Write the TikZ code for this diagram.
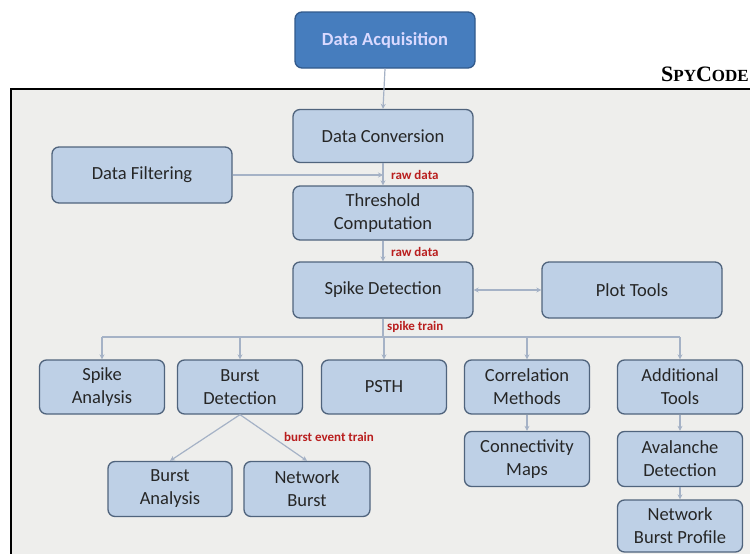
\documentclass[tikz,border=0pt]{standalone}
\usepackage{fontspec}
\setmainfont{Carlito}
\newfontfamily\serifsc{Liberation Serif}
\usetikzlibrary{arrows.meta}
\definecolor{boxfill}{RGB}{190,208,230}
\definecolor{boxline}{RGB}{80,100,125}
\definecolor{topfill}{RGB}{70,125,190}
\definecolor{topline}{RGB}{50,90,140}
\definecolor{panel}{RGB}{238,238,236}
\definecolor{wire}{RGB}{165,178,198}
\definecolor{lbl}{RGB}{185,30,30}
\tikzset{
  x=1pt, y=-1pt,
  blk/.style={draw=boxline, line width=1.3pt, fill=boxfill, rounded corners=7pt,
    font=\fontsize{18.5}{23}\selectfont, text=black!85, align=center, inner sep=0pt},
  topblk/.style={blk, draw=topline, fill=topfill, text=white!85!blue,
    font=\fontsize{18.5}{23}\selectfont\bfseries},
  wirel/.style={draw=wire, line width=1.2pt},
  arr/.style={wirel, -{Stealth[length=5pt,width=5pt]}},
  tag/.style={font=\fontsize{13}{15}\selectfont\bfseries, text=lbl, inner sep=1pt}
}
\begin{document}
\begin{tikzpicture}
\useasboundingbox (0,0) rectangle (750,554);
\clip (0,0) rectangle (750,554);
\fill[white] (0,0) rectangle (750,554);
% SpyCode frame
\draw[line width=2.2pt, fill=panel] (11,89) rectangle (770,580);
\node[font=\serifsc\bfseries, anchor=east, inner sep=0pt] (spy) at (749,74)
  {\fontsize{22}{24}\selectfont S\fontsize{17}{20}\selectfont PY\fontsize{22}{24}\selectfont C\fontsize{17}{20}\selectfont ODE};

% blocks
\node[topblk, minimum width=180pt, minimum height=56pt] (acq) at (385,40) {Data Acquisition};
\node[blk, minimum width=180pt, minimum height=53pt] (conv) at (383,136) {Data Conversion};
\node[blk, minimum width=180pt, minimum height=56pt] (filt) at (142,175) {Data Filtering};
\node[blk, minimum width=180pt, minimum height=54pt] (thr) at (383,213) {Threshold\\Computation};
\node[blk, minimum width=180pt, minimum height=56pt] (spk) at (383,290) {Spike Detection};
\node[blk, minimum width=180pt, minimum height=56pt] (plot) at (632,290) {Plot Tools};

\node[blk, minimum width=125pt, minimum height=54pt] (sa) at (102,387) {Spike\\Analysis};
\node[blk, minimum width=125pt, minimum height=54pt] (bd) at (240,387) {Burst\\Detection};
\node[blk, minimum width=125pt, minimum height=54pt] (psth) at (384,387) {PSTH};
\node[blk, minimum width=125pt, minimum height=54pt] (corr) at (527,387) {Correlation\\Methods};
\node[blk, minimum width=125pt, minimum height=54pt] (add) at (680,387) {Additional\\Tools};

\node[blk, minimum width=124pt, minimum height=55pt] (ba) at (170,489) {Burst\\Analysis};
\node[blk, minimum width=126pt, minimum height=55pt] (nb) at (307,489) {Network\\Burst};
\node[blk, minimum width=125pt, minimum height=55pt] (cm) at (527,459) {Connectivity\\Maps};
\node[blk, minimum width=125pt, minimum height=55pt] (av) at (680,459) {Avalanche\\Detection};
\node[blk, minimum width=125pt, minimum height=52pt] (nbp) at (680,526) {Network\\Burst Profile};

% connectors
\draw[arr] (acq.south) -- (conv.north);
\draw[arr] (conv.south) -- (thr.north);
\coordinate (join) at (383,175);
\draw[arr] (filt.east) -- (join);
\draw[arr] (thr.south) -- (spk.north);
\draw[wirel, {Stealth[length=5pt,width=5pt]}-{Stealth[length=5pt,width=5pt]}] (spk.east) -- (plot.west);

\coordinate (bus) at (383,337);
\draw[wirel] (spk.south) -- (bus);
\draw[wirel] (sa.north |- bus) -- (add.north |- bus);
\foreach \n in {sa,bd,psth,corr,add}
  \draw[arr] (\n.north |- bus) -- (\n.north);

\draw[arr] (bd.south) -- (ba.north);
\draw[arr] (bd.south) -- (nb.north);
\draw[arr] (corr.south) -- (cm.north);
\draw[arr] (add.south) -- (av.north);
\draw[arr] (av.south) -- (nbp.north);

% data labels
\node[tag, anchor=west] (l1) at (390,175) {raw data};
\node[tag, anchor=west] (l2) at (390,252) {raw data};
\node[tag, anchor=west] (l3) at (386,327) {spike train};
\node[tag, anchor=west] (l4) at (283,437) {burst event train};
\end{tikzpicture}
\end{document}
